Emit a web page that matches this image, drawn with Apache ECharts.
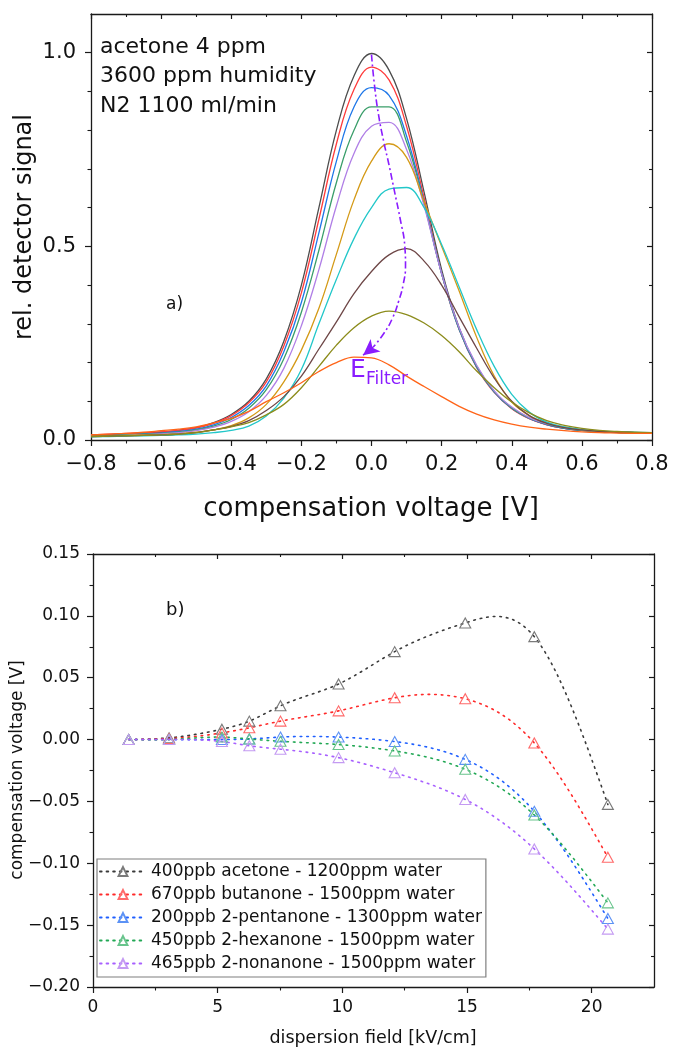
<!DOCTYPE html>
<html><head><meta charset="utf-8">
<script src="https://cdn.jsdelivr.net/npm/echarts@6/dist/echarts.min.js"></script>
<style>html,body{margin:0;padding:0;background:#fff}#c{width:675px;height:1053px}</style>
</head><body><div id="c"></div>
<script>
// ---------- panel a) data ----------
const cv = [-0.8,-0.75,-0.7,-0.65,-0.6,-0.55,-0.5,-0.45,-0.4,-0.35,-0.3,-0.25,-0.2,-0.15,-0.1,-0.05,0,0.05,0.1,0.15,0.2,0.25,0.3,0.35,0.4,0.45,0.5,0.55,0.6,0.65,0.7,0.75,0.8];
const sigBlack = [0.012,0.014,0.016,0.018,0.020,0.025,0.032,0.045,0.066,0.100,0.158,0.255,0.400,0.600,0.800,0.940,0.998,0.955,0.830,0.640,0.440,0.290,0.190,0.125,0.082,0.056,0.040,0.030,0.025,0.022,0.020,0.019,0.018];
const sigRed = [0.013,0.015,0.017,0.019,0.021,0.025,0.031,0.043,0.063,0.096,0.150,0.243,0.380,0.570,0.765,0.905,0.963,0.930,0.810,0.625,0.430,0.285,0.187,0.123,0.081,0.055,0.039,0.030,0.025,0.022,0.020,0.019,0.018];
const sigBlue = [0.011,0.012,0.014,0.016,0.018,0.022,0.028,0.039,0.058,0.089,0.140,0.228,0.355,0.535,0.720,0.860,0.910,0.890,0.785,0.615,0.430,0.285,0.188,0.124,0.082,0.056,0.040,0.030,0.025,0.022,0.020,0.019,0.018];
const sigGreen = [0.010,0.011,0.013,0.015,0.017,0.020,0.026,0.036,0.053,0.082,0.130,0.210,0.330,0.490,0.665,0.800,0.860,0.860,0.770,0.610,0.430,0.287,0.190,0.125,0.083,0.057,0.041,0.031,0.025,0.022,0.020,0.019,0.018];
const sigLilac = [0.010,0.011,0.012,0.014,0.016,0.019,0.024,0.033,0.048,0.073,0.115,0.185,0.295,0.440,0.605,0.740,0.810,0.820,0.750,0.605,0.430,0.290,0.193,0.127,0.085,0.058,0.042,0.032,0.026,0.022,0.020,0.019,0.018];
const sigGold = [0.010,0.011,0.012,0.013,0.014,0.016,0.020,0.026,0.037,0.057,0.092,0.150,0.232,0.340,0.480,0.620,0.720,0.765,0.730,0.615,0.500,0.385,0.265,0.165,0.098,0.063,0.044,0.033,0.026,0.022,0.020,0.018,0.017];
const sigCyan = [0.008,0.009,0.010,0.011,0.012,0.013,0.015,0.019,0.025,0.036,0.062,0.108,0.182,0.300,0.415,0.520,0.600,0.648,0.652,0.600,0.505,0.395,0.285,0.190,0.118,0.072,0.046,0.034,0.027,0.023,0.021,0.020,0.019];
const sigBrown = [0.009,0.010,0.011,0.012,0.013,0.015,0.019,0.026,0.035,0.050,0.076,0.112,0.165,0.235,0.305,0.378,0.435,0.478,0.494,0.462,0.400,0.318,0.237,0.160,0.100,0.063,0.043,0.032,0.026,0.022,0.020,0.019,0.018];
const sigOlive = [0.009,0.010,0.011,0.012,0.013,0.015,0.019,0.026,0.034,0.045,0.065,0.092,0.135,0.190,0.245,0.290,0.320,0.333,0.324,0.302,0.270,0.228,0.178,0.135,0.098,0.070,0.050,0.038,0.030,0.025,0.022,0.020,0.019];
const sigOrange = [0.013,0.015,0.017,0.020,0.024,0.028,0.034,0.044,0.056,0.074,0.099,0.122,0.148,0.177,0.200,0.214,0.212,0.194,0.165,0.138,0.112,0.087,0.067,0.052,0.041,0.033,0.028,0.024,0.021,0.019,0.018,0.017,0.017];
// E_Filter arrow path
const arrowX = [0.0,0.008,0.02,0.035,0.05,0.066,0.082,0.095,0.097,0.09,0.078,0.06,0.035,0.005,-0.024];
const arrowY = [0.995,0.92,0.84,0.77,0.71,0.64,0.57,0.5,0.45,0.4,0.36,0.315,0.275,0.24,0.219];
// panel a) ticks
const aXMajor = [-0.8,-0.6,-0.4,-0.2,0,0.2,0.4,0.6,0.8];
const aXMinor = [-0.7,-0.5,-0.3,-0.1,0.1,0.3,0.5,0.7];
const aYMajor = [0,0.5,1.0];
const aYMinor = [0.1,0.2,0.3,0.4,0.6,0.7,0.8,0.9];

// ---------- panel b) data ----------
const field = [1.43,3.05,5.17,6.27,7.52,9.85,12.1,14.93,17.7,20.65];
const cvAcetone   = [0,0.0014,0.0084,0.0149,0.0273,0.0449,0.0711,0.0943,0.0832,-0.0524];
const cvButanone  = [0,0.0008,0.0054,0.0095,0.0149,0.0232,0.0338,0.0330,-0.0027,-0.0951];
const cvPentanone = [0,0,0,0.0005,0.0020,0.0020,-0.0016,-0.0160,-0.0580,-0.1446];
const cvHexanone  = [0,0,0.0020,0.0005,-0.0014,-0.0040,-0.0092,-0.0240,-0.0610,-0.1320];
const cvNonanone  = [0,0,-0.0016,-0.0050,-0.0078,-0.0146,-0.0268,-0.0484,-0.0884,-0.1532];
const seriesNames = ['400ppb acetone - 1200ppm water','670ppb butanone - 1500ppm water','200ppb 2-pentanone - 1300ppm water','450ppb 2-hexanone - 1500ppm water','465ppb 2-nonanone - 1500ppm water'];
const bXMajor = [0,5,10,15,20];
const bXMinor = [2.5,7.5,12.5,17.5];
const bYMajor = [-0.2,-0.15,-0.1,-0.05,0,0.05,0.1,0.15];
const bYMinor = [-0.175,-0.125,-0.075,-0.025,0.025,0.075,0.125];

const FONT = 'DejaVu Sans';
const AX = '#1a1a1a';
const zip = (xs, ys) => xs.map((x, i) => [x, ys[i]]);
const minus = s => s.replace('-', '\u2212');

function axisPair(grid, pos, min, max, major, minor, inside, labels, fmt, fs, margin, majLen, minLen) {
  const base = {type:'value', gridIndex:grid, position:pos, min:min, max:max, splitLine:{show:false}};
  const main = Object.assign({}, base, {
    axisLine:{show:true, onZero:false, lineStyle:{color:AX, width:1.3}},
    axisTick:{show:true, inside:inside, length:majLen, customValues:major, lineStyle:{color:AX, width:1.2}},
    axisLabel:{show:labels, customValues:major, formatter:fmt, fontFamily:FONT, fontSize:fs, color:'#111', margin:margin},
  });
  const mino = Object.assign({}, base, {
    axisLine:{show:false, onZero:false},
    axisTick:{show:true, inside:inside, length:minLen, customValues:minor, lineStyle:{color:AX, width:1.1}},
    axisLabel:{show:false},
  });
  return [main, mino];
}

const fmtA = v => minus((Math.abs(v) < 1e-9 ? 0 : v).toFixed(1));
const fmtBY = v => (v < -1e-9 ? '\u2212' : '') + Math.abs(v).toFixed(2);
const fmtBX = v => String(Math.round(v));

const xAxes = [].concat(
  axisPair(0,'bottom',-0.8,0.8,aXMajor,aXMinor,false,true,fmtA,21,14,6,3.5),
  axisPair(0,'top',-0.8,0.8,aXMajor,aXMinor,true,false,fmtA,21,8,5,3),
  axisPair(1,'bottom',0,22.5,bXMajor,bXMinor,false,true,fmtBX,17,12,6,3.5),
  axisPair(1,'top',0,22.5,bXMajor,bXMinor,true,false,fmtBX,17,8,5,3)
);
const yAxes = [].concat(
  axisPair(0,'left',0,1.1,aYMajor,aYMinor,false,true,fmtA,21,15,6,3.5),
  axisPair(0,'right',0,1.1,aYMajor,aYMinor,true,false,fmtA,21,8,5,3),
  axisPair(1,'left',-0.2,0.15,bYMajor,bYMinor,false,true,fmtBY,17,13,6,3.5),
  axisPair(1,'right',-0.2,0.15,bYMajor,bYMinor,true,false,fmtBY,17,8,5,3)
);

const topCurves = [
  ['black', sigBlack, '#4d4d4d'],
  ['red', sigRed, '#ff3b3b'],
  ['blue', sigBlue, '#1f77e8'],
  ['green', sigGreen, '#3a9e6a'],
  ['lilac', sigLilac, '#b07fe6'],
  ['gold', sigGold, '#d49a17'],
  ['cyan', sigCyan, '#22c7c9'],
  ['brown', sigBrown, '#6e4747'],
  ['olive', sigOlive, '#8c8c1c'],
  ['orange', sigOrange, '#ff6418'],
];
const series = topCurves.map(([n, d, c]) => ({
  name:n, type:'line', xAxisIndex:0, yAxisIndex:0, data:zip(cv, d), smooth:0.4,
  showSymbol:false, symbol:'none', lineStyle:{color:c, width:1.3}, itemStyle:{color:c}, z:2
}));
const PURPLE = '#8a1cff';
const nA = arrowX.length;
series.push({
  name:'E_Filter', type:'line', xAxisIndex:0, yAxisIndex:0, data:zip(arrowX.slice(0, nA-1), arrowY.slice(0, nA-1)), smooth:0.5,
  showSymbol:false, symbol:'none', lineStyle:{color:PURPLE, width:1.6, type:[7,3,2,3]}, z:5,
  markLine:{silent:true, symbol:['none','arrow'], symbolSize:[12,16], label:{show:false},
    lineStyle:{color:PURPLE, width:1.6, type:'solid'},
    data:[[{coord:[arrowX[nA-2], arrowY[nA-2]]},{coord:[arrowX[nA-1], arrowY[nA-1]]}]]}
});

// natural cubic spline through pixel points (x increasing), used only to draw the connecting curve
function splinePath(pts, seg) {
  const n = pts.length, xs = pts.map(p => p[0]), ys = pts.map(p => p[1]);
  const h = [], al = [], l = new Array(n).fill(0), mu = new Array(n).fill(0), z = new Array(n).fill(0);
  const c = new Array(n).fill(0), b = [], d = [];
  for (let i = 0; i < n - 1; i++) h[i] = xs[i+1] - xs[i];
  for (let i = 1; i < n - 1; i++) al[i] = 3 / h[i] * (ys[i+1] - ys[i]) - 3 / h[i-1] * (ys[i] - ys[i-1]);
  l[0] = 1;
  for (let i = 1; i < n - 1; i++) {
    l[i] = 2 * (xs[i+1] - xs[i-1]) - h[i-1] * mu[i-1];
    mu[i] = h[i] / l[i];
    z[i] = (al[i] - h[i-1] * z[i-1]) / l[i];
  }
  for (let j = n - 2; j >= 0; j--) {
    c[j] = z[j] - mu[j] * c[j+1];
    b[j] = (ys[j+1] - ys[j]) / h[j] - h[j] * (c[j+1] + 2 * c[j]) / 3;
    d[j] = (c[j+1] - c[j]) / (3 * h[j]);
  }
  const out = [];
  for (let j = 0; j < n - 1; j++) {
    for (let k = 0; k < seg; k++) {
      const t = h[j] * k / seg;
      out.push([xs[j] + t, ys[j] + b[j] * t + c[j] * t * t + d[j] * t * t * t]);
    }
  }
  out.push(pts[n-1]);
  return out;
}

const bSets = [
  [cvAcetone, '#3a3a3a', '#7a7a7a'],
  [cvButanone, '#ff2a2a', '#ff6a6a'],
  [cvPentanone, '#1f5fff', '#5c92f5'],
  [cvHexanone, '#22a855', '#68c48c'],
  [cvNonanone, '#a860ff', '#c49af2'],
];
bSets.forEach(([d, lc, mc], i) => {
  // dotted spline connecting the points
  series.push({
    type:'custom', coordinateSystem:'cartesian2d', xAxisIndex:4, yAxisIndex:4, data:zip(field, d), silent:true, z:2,
    renderItem:(params, api) => {
      if (params.dataIndex !== 0) return null;
      const px = field.map((x, k) => api.coord([x, d[k]]));
      return {type:'polyline', shape:{points:splinePath(px, 16)},
        style:{stroke:lc, lineWidth:1.6, lineDash:[1.6,5], lineCap:'round', fill:null}};
    }
  });
  // markers (+ legend entry)
  series.push({
    name:seriesNames[i], type:'line', xAxisIndex:4, yAxisIndex:4, data:zip(field, d),
    symbol:'triangle', symbolSize:[11,10], showSymbol:true,
    lineStyle:{color:lc, width:1.6, type:[1.6,5], cap:'round', opacity:0},
    itemStyle:{color:'rgba(255,255,255,0)', borderColor:mc, borderWidth:1.1},
    z:3+i
  });
});

const txt = (t, x, y, size, extra) => Object.assign({type:'text', x:x, y:y, z:100,
  style:Object.assign({text:t, font:size+'px "'+FONT+'"', fill:'#111', align:'left', verticalAlign:'middle'}, extra||{})});

const graphic = [
  txt('acetone 4 ppm', 100, 47, 22),
  txt('3600 ppm humidity', 100, 76, 22),
  txt('N2 1100 ml/min', 100, 106, 22),
  txt('a)', 166, 305, 17),
  txt('b)', 166, 610, 18),
  txt('E', 350, 370, 25, {fill:PURPLE}),
  txt('Filter', 366, 380, 17, {fill:PURPLE}),
  Object.assign(txt('rel. detector signal', 25, 227, 24, {align:'center'}), {rotation:Math.PI/2}),
  txt('compensation voltage [V]', 371, 509, 26, {align:'center'}),
  Object.assign(txt('compensation voltage [V]', 18, 770, 17, {align:'center'}), {rotation:Math.PI/2}),
  txt('dispersion field [kV/cm]', 373, 1038, 17.5, {align:'center'}),
];

const chart = echarts.init(document.getElementById('c'), null, {renderer:'canvas'});
chart.setOption({
  animation:false,
  backgroundColor:'#fff',
  textStyle:{fontFamily:FONT},
  grid:[{left:91, top:14, width:561, height:426}, {left:93, top:554, width:561, height:433}],
  xAxis:xAxes,
  yAxis:yAxes,
  legend:{data:seriesNames, orient:'vertical', left:97, top:859, itemWidth:46, itemHeight:11, itemGap:0,
    padding:[1,4,2,2], backgroundColor:'#fff', borderColor:'#7f7f7f', borderWidth:1.2, align:'left',
    lineStyle:{opacity:1},
    textStyle:{fontFamily:FONT, fontSize:17, color:'#111', lineHeight:23}},
  series:series,
  graphic:graphic
});
</script></body></html>
